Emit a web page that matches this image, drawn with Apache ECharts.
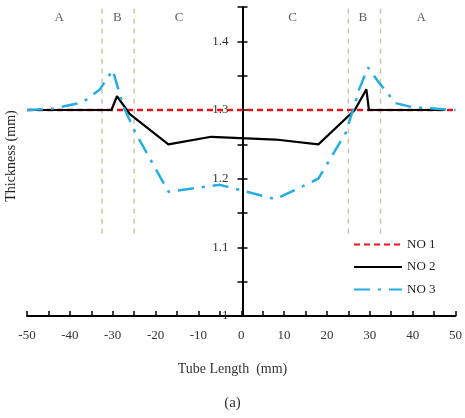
<!DOCTYPE html>
<html>
<head>
<meta charset="utf-8">
<script src="https://cdn.jsdelivr.net/npm/echarts@6/dist/echarts.min.js"></script>
<style>
  html, body { margin: 0; padding: 0; background: #fff; }
  #chart { width: 465px; height: 418px; }
</style>
</head>
<body>
<div id="chart"></div>
<script>
// thickness profiles along the tube
const no1 = [[-50, 1.3], [50, 1.3]];
const no2 = [[-48.5, 1.3], [-30.3, 1.3], [-29, 1.32], [-26, 1.294], [-17, 1.25], [-7, 1.261],
  [8, 1.257], [18, 1.25], [26.5, 1.3], [29.2, 1.33], [29.8, 1.3], [47.5, 1.3]];
const no3 = [[-50, 1.3], [-44, 1.302], [-37, 1.311], [-33, 1.33], [-30, 1.358], [-27.5, 1.305],
  [-24.6, 1.266], [-17, 1.181], [-5, 1.191], [8, 1.17], [18, 1.2], [24.5, 1.268],
  [27.5, 1.33], [29.6, 1.362], [32, 1.341], [36, 1.31], [40, 1.304], [50, 1.3]];

// zone boundaries and labels
const boundaries = [-32.5, -25, 25, 32.5];
const boundaryRange = [1.12, 1.45];
const zoneNames = ['A', 'B', 'C', 'C', 'B', 'A'];
const zoneX = [-42.5, -28.9, -14.5, 12, 28.4, 42];
const zoneY = 1.435;

const font = 'Liberation Serif';
const gridLeft = 27, gridRight = 7;
const yAxisShift = -((465 - gridLeft - gridRight) / 2); // put the y axis at x = 0
const chart = echarts.init(document.getElementById('chart'));

const boundarySeries = boundaries.map(x => ({
  type: 'line',
  data: [[x, boundaryRange[0]], [x, boundaryRange[1]]],
  symbol: 'none',
  silent: true,
  lineStyle: { color: '#cdc5a6', width: 1.5, type: [5, 5] },
  z: 1
}));

chart.setOption({
  animation: false,
  grid: { left: gridLeft, right: gridRight, top: 7, bottom: 102 },
  legend: {
    orient: 'vertical',
    left: 353,
    top: 238,
    padding: 0,
    itemWidth: 48,
    itemHeight: 14,
    itemGap: 9.5,
    data: ['NO 1', 'NO 2', 'NO 3'],
    itemStyle: { opacity: 0 },
    textStyle: { fontFamily: font, fontSize: 13, color: '#222' }
  },
  xAxis: {
    type: 'value',
    min: -50,
    max: 50,
    interval: 5,
    axisLine: { onZero: false, lineStyle: { color: '#000', width: 2 } },
    axisTick: { inside: true, length: 5, lineStyle: { color: '#000', width: 1.5 } },
    splitLine: { show: false },
    axisLabel: {
      fontFamily: font, fontSize: 13, color: '#333', margin: 13,
      formatter: v => (Math.round(v) % 10 === 0 ? String(v) : '')
    }
  },
  yAxis: [{
    type: 'value',
    min: 1,
    max: 1.45,
    interval: 0.05,
    offset: yAxisShift,
    axisLine: { onZero: false, lineStyle: { color: '#000', width: 2 } },
    axisTick: { length: 5, lineStyle: { color: '#000', width: 1.5 } },
    splitLine: { show: false },
    axisLabel: {
      fontFamily: font, fontSize: 13, color: '#333', margin: 14,
      formatter: v => {
        const k = Math.round(v * 100);
        if (k % 10 !== 0 || k > 140) return '';
        return k === 100 ? '1' : (k / 100).toFixed(1);
      }
    }
  }, {
    type: 'value',
    min: 1,
    max: 1.45,
    interval: 0.05,
    position: 'left',
    offset: yAxisShift,
    axisLine: { show: false, onZero: false },
    axisTick: { inside: true, length: 5, lineStyle: { color: '#000', width: 1.5 } },
    axisLabel: { show: false },
    splitLine: { show: false }
  }],
  graphic: [{
    type: 'text',
    x: 11,
    y: 156,
    rotation: Math.PI / 2,
    style: {
      text: 'Thickness (mm)', font: '14px "Liberation Serif"', fill: '#222',
      textAlign: 'center', textVerticalAlign: 'middle'
    }
  }, {
    type: 'text',
    left: 'center',
    top: 362,
    style: { text: 'Tube Length  (mm)', font: '14px "Liberation Serif"', fill: '#333' }
  }, {
    type: 'text',
    left: 'center',
    top: 396,
    style: { text: '(a)', font: '15px "Liberation Serif"', fill: '#333' }
  }],
  series: [
    ...boundarySeries,
    {
      type: 'scatter',
      data: zoneX.map((x, i) => [x, zoneY, zoneNames[i]]),
      symbolSize: 0,
      silent: true,
      label: {
        show: true,
        position: 'inside',
        formatter: p => p.data[2],
        fontFamily: font, fontSize: 13, color: '#333'
      }
    },
    {
      name: 'NO 1', type: 'line', data: no1, symbol: 'none', z: 3,
      lineStyle: { color: '#e3141c', width: 2.5, type: [6, 4] },
      itemStyle: { color: '#e3141c' }
    },
    {
      name: 'NO 2', type: 'line', data: no2, symbol: 'none', z: 4,
      lineStyle: { color: '#000', width: 2.2 },
      itemStyle: { color: '#000' }
    },
    {
      name: 'NO 3', type: 'line', data: no3, symbol: 'none', z: 5,
      lineStyle: { color: '#23ade3', width: 2.5, type: [16, 8, 3, 8] },
      itemStyle: { color: '#23ade3' }
    }
  ]
});
</script>
</body>
</html>
